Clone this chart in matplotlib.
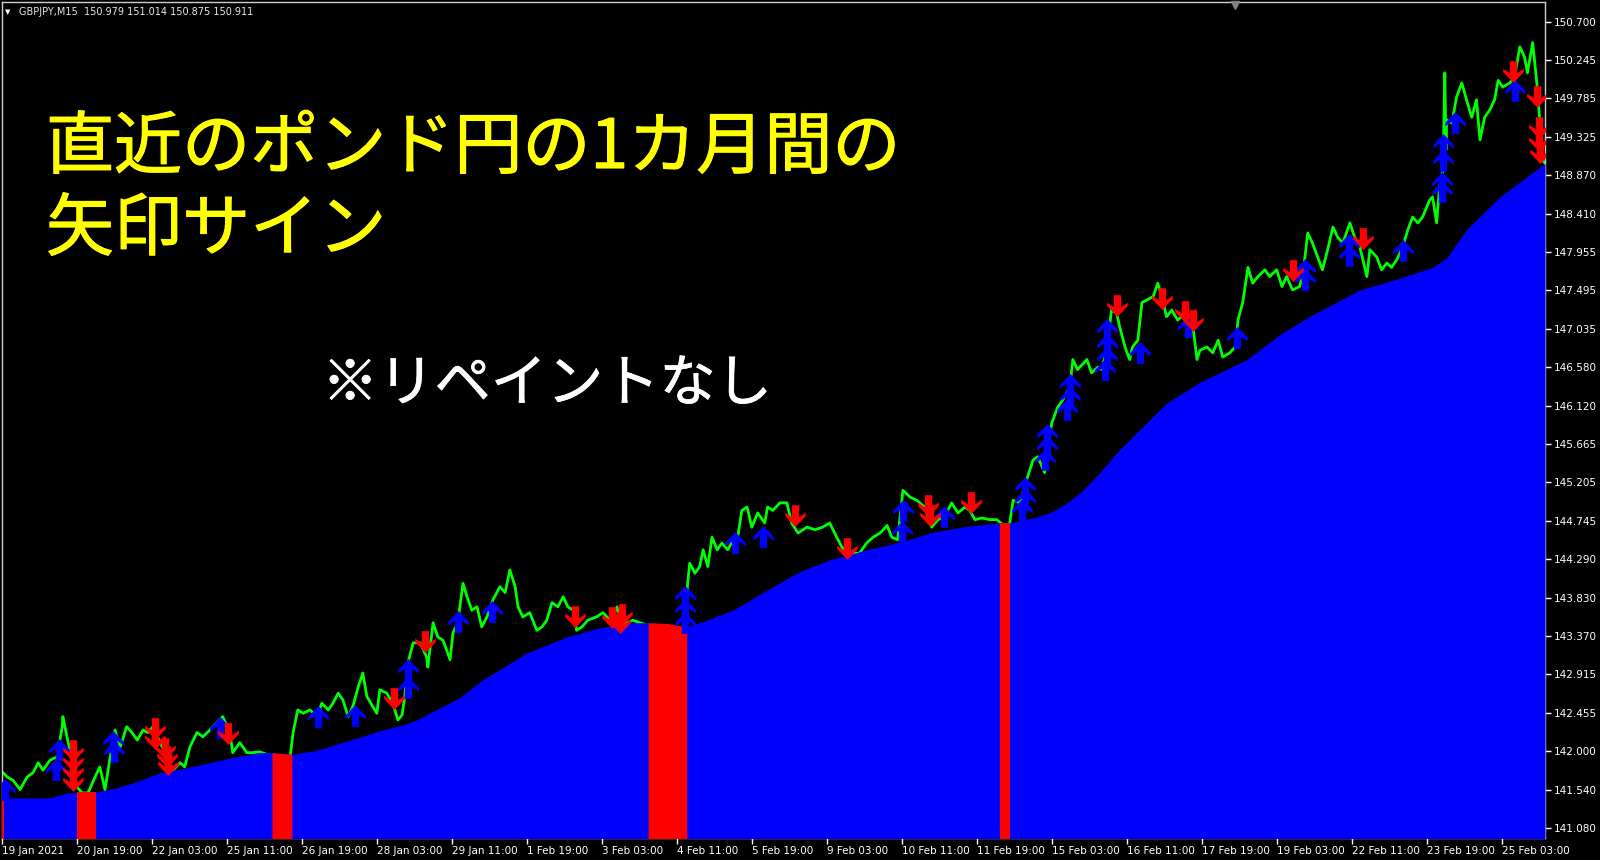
import numpy as np
import matplotlib
matplotlib.use("Agg")
import matplotlib.pyplot as plt
import matplotlib.patheffects as pe
from matplotlib.path import Path

plt.rcParams['font.family'] = ['DejaVu Sans', 'Noto Sans CJK JP']

# GBPJPY M15 close (bar index from 19 Jan 2021, price)
price_bar = [1, 8, 18, 30, 42, 52, 61, 69, 81, 93, 102, 103, 110, 119, 127, 136, 146, 158, 166, 175,
             183, 192, 201, 212, 221, 230, 240, 248, 257, 269, 281, 291, 303, 311, 320, 332, 342, 354, 366, 376,
             388, 393, 405, 417, 427, 439, 451, 474, 491, 496, 504, 513, 525, 537, 545, 556, 564, 573, 581, 590,
             598, 607, 615, 622, 632, 639, 644, 656, 666, 675, 682, 687, 692, 701, 713, 724, 726, 735, 743, 752,
             764, 769, 777, 786, 793, 801, 810, 818, 827, 837, 849, 858, 866, 875, 880, 888, 900, 912, 921, 929,
             938, 948, 957, 965, 974, 980, 989, 999, 1014, 1025, 1037, 1049, 1054, 1066, 1076, 1088, 1102, 1136, 1168, 1169,
             1173, 1182, 1190, 1196, 1204, 1211, 1220, 1228, 1238, 1247, 1255, 1262, 1271, 1279, 1289, 1301, 1306, 1315, 1327, 1339,
             1347, 1358, 1373, 1387, 1400, 1412, 1424, 1433, 1446, 1463, 1475, 1486, 1498, 1510, 1518, 1528, 1537, 1549, 1561, 1574,
             1586, 1597, 1608, 1620, 1631, 1643, 1651, 1660, 1672, 1685, 1697, 1711, 1719, 1725, 1737, 1748, 1759, 1767, 1779, 1784,
             1791, 1801, 1810, 1822, 1827, 1835, 1851, 1859, 1870, 1876, 1885, 1893, 1902, 1907, 1916, 1924, 1929, 1938, 1945, 1953,
             1964, 1972, 1979, 1987, 1996, 2006, 2018, 2023, 2032, 2039, 2044, 2056, 2066, 2075, 2083, 2095, 2104, 2109, 2117, 2126,
             2134, 2143, 2155, 2163, 2175, 2184, 2192, 2202, 2214, 2220, 2228, 2236, 2245, 2253, 2262, 2271, 2279, 2288, 2300, 2308,
             2317, 2329, 2334, 2346, 2354, 2363, 2371, 2380, 2390, 2399, 2407, 2416, 2424, 2436, 2441, 2448, 2453, 2459, 2462, 2464,
             2465, 2474, 2482, 2491, 2499, 2508, 2516, 2522, 2530, 2539, 2547, 2553, 2561, 2573, 2581, 2590, 2598, 2603, 2612, 2619,
             2624, 2629, 2633]
price_val = [141.74, 141.69, 141.65, 141.54, 141.69, 141.74, 141.86, 141.77, 141.89, 141.93, 142.29, 142.41, 142.17, 141.89, 141.57, 141.50, 141.50, 141.69, 141.81, 141.54,
             141.89, 142.25, 142.05, 142.29, 142.22, 142.13, 142.25, 142.22, 142.29, 142.10, 141.93, 141.77, 141.86, 141.81, 142.05, 142.22, 142.17, 142.25, 142.34, 142.41,
             142.22, 141.98, 142.10, 141.98, 141.98, 141.99, 141.96, 141.93, 141.93, 142.22, 142.49, 142.45, 142.49, 142.41, 142.57, 142.49, 142.57, 142.69, 142.61, 142.41,
             142.53, 142.76, 142.93, 142.65, 142.53, 142.45, 142.73, 142.69, 142.57, 142.37, 142.43, 142.67, 143.05, 143.29, 143.29, 143.12, 143.00, 143.53, 143.36, 143.32,
             143.09, 143.41, 143.53, 144.00, 143.84, 143.68, 143.72, 143.48, 143.60, 143.80, 143.96, 143.89, 144.16, 143.96, 143.72, 143.60, 143.65, 143.44, 143.48, 143.56,
             143.77, 143.72, 143.84, 143.72, 143.68, 143.44, 143.48, 143.56, 143.60, 143.65, 143.56, 143.72, 143.53, 143.53, 143.56, 143.53, 143.50, 143.45, 143.44, 143.96,
             144.24, 144.12, 144.20, 144.40, 144.20, 144.55, 144.40, 144.48, 144.40, 144.52, 144.55, 144.87, 144.91, 144.67, 144.84, 144.72, 144.91, 144.87, 144.96, 144.96,
             144.72, 144.60, 144.67, 144.64, 144.67, 144.72, 144.55, 144.43, 144.36, 144.36, 144.48, 144.55, 144.60, 144.69, 144.55, 144.52, 145.11, 145.03, 144.99, 144.91,
             144.67, 144.76, 144.79, 144.96, 144.84, 144.91, 144.87, 144.76, 144.78, 144.76, 144.76, 144.68, 144.70, 144.99, 144.96, 145.23, 145.47, 145.51, 145.32, 145.63,
             145.91, 146.10, 146.19, 146.34, 146.67, 146.55, 146.67, 146.51, 146.58, 146.55, 146.78, 147.26, 147.22, 147.06, 146.82, 146.67, 146.82, 146.90, 147.35, 147.38,
             147.42, 147.58, 147.42, 147.18, 147.26, 147.14, 147.22, 146.94, 147.06, 146.67, 146.78, 146.82, 146.75, 146.90, 146.70, 146.75, 146.82, 147.14, 147.35, 147.77,
             147.58, 147.66, 147.74, 147.66, 147.74, 147.54, 147.66, 147.50, 147.54, 147.70, 148.18, 148.06, 147.89, 147.74, 147.98, 148.25, 148.13, 148.06, 148.30, 148.13,
             148.01, 147.66, 147.98, 147.89, 147.74, 147.82, 147.77, 147.86, 148.01, 148.22, 148.37, 148.30, 148.37, 148.57, 148.61, 148.30, 148.73, 148.93, 150.09, 149.17,
             149.53, 149.49, 149.80, 149.97, 149.77, 149.56, 149.77, 149.29, 149.56, 149.65, 149.77, 150.00, 149.92, 149.97, 150.04, 150.40, 150.28, 150.09, 150.45, 149.97,
             149.53, 149.05, 149.01]

# moving average band (top of the filled area)
ma_bar = [0, 81, 110, 127, 160, 183, 223, 269, 315, 359, 405, 439, 460, 494, 537, 593, 649, 678, 707, 781,
          820, 895, 963, 1020, 1076, 1102, 1136, 1168, 1190, 1247, 1305, 1361, 1412, 1475, 1532, 1588, 1646, 1702, 1719, 1759,
          1788, 1817, 1844, 1873, 1902, 1929, 1987, 2044, 2124, 2185, 2243, 2317, 2385, 2441, 2465, 2499, 2556, 2633]
ma_val = [141.44, 141.44, 141.50, 141.51, 141.51, 141.54, 141.62, 141.74, 141.80, 141.87, 141.94, 141.98, 141.98, 141.96, 142.01, 142.13, 142.25, 142.30, 142.37, 142.64,
          142.85, 143.17, 143.36, 143.47, 143.53, 143.53, 143.52, 143.48, 143.53, 143.68, 143.92, 144.14, 144.28, 144.40, 144.49, 144.61, 144.68, 144.72, 144.72, 144.78,
          144.84, 144.96, 145.11, 145.32, 145.56, 145.75, 146.15, 146.40, 146.67, 146.99, 147.23, 147.50, 147.64, 147.77, 147.88, 148.22, 148.61, 149.01]

# bar ranges where the band turns red
red_zones = [(0, 3), (127, 160), (460, 494), (1102, 1168), (1702, 1719)]

# buy arrows (blue, up) and sell arrows (red, down)
up_bar = [4, 91, 96, 189, 191, 371, 538, 602, 692, 692, 777, 835, 1165, 1165, 1165, 1250, 1298, 1535, 1537, 1607,
          1745, 1745, 1740, 1783, 1783, 1779, 1822, 1822, 1817, 1885, 1885, 1885, 1882, 1941, 2023, 2107, 2224, 2223, 2298, 2298,
          2390, 2457, 2457, 2459, 2459, 2480, 2581]
up_val = [141.54, 141.77, 142.01, 142.11, 141.99, 142.27, 142.41, 142.42, 142.97, 142.75, 143.54, 143.66, 143.84, 143.68, 143.53, 144.48, 144.55, 144.61, 144.86, 144.79,
          145.14, 144.99, 144.88, 145.77, 145.63, 145.47, 146.37, 146.21, 146.07, 147.02, 146.84, 146.69, 146.55, 146.75, 147.06, 146.93, 147.74, 147.62, 148.04, 147.91,
          147.97, 148.78, 148.67, 149.04, 149.23, 149.49, 149.87]
dn_bar = [120, 120, 120, 120, 260, 260, 277, 281, 283, 385, 668, 721, 977, 1040, 1057, 1054, 1352, 1441, 1580, 1583,
          1653, 1902, 1979, 2018, 2032, 2202, 2322, 2578, 2620, 2622, 2622, 2624]
dn_val = [142.01, 141.89, 141.77, 141.65, 142.27, 142.15, 142.04, 141.94, 141.85, 142.22, 142.63, 143.31, 143.61, 143.60, 143.63, 143.54, 144.82, 144.42, 144.93, 144.82,
          144.97, 147.32, 147.40, 147.25, 147.14, 147.74, 148.12, 150.11, 149.81, 149.44, 149.29, 149.15]

y_ticks = [150.700, 150.245, 149.785, 149.325, 148.870, 148.410, 147.955, 147.495, 147.035, 146.580, 146.120,
           145.665, 145.205, 144.745, 144.290, 143.830, 143.370, 142.915, 142.455, 142.000, 141.540, 141.080]
x_labels = ['19 Jan 2021', '20 Jan 19:00', '22 Jan 03:00', '25 Jan 11:00', '26 Jan 19:00', '28 Jan 03:00',
            '29 Jan 11:00', '1 Feb 19:00', '3 Feb 03:00', '4 Feb 11:00', '5 Feb 19:00', '9 Feb 03:00',
            '10 Feb 11:00', '11 Feb 19:00', '15 Feb 03:00', '16 Feb 11:00', '17 Feb 19:00', '19 Feb 03:00',
            '22 Feb 11:00', '23 Feb 19:00', '25 Feb 03:00']
bars_per_label = 128

y_lo, y_hi = 140.962, 150.935

fig = plt.figure(figsize=(16, 8.6), dpi=100, facecolor='black')
ax = fig.add_axes([2 / 1600, 22 / 860, 1543 / 1600, 836 / 860])
ax.set_facecolor('black')

ax.plot(price_bar, price_val, color='#00FF00', lw=2, zorder=2)
ax.fill_between(ma_bar, ma_val, y_lo - 1, color='#0000FF', lw=0, zorder=3)
for b0, b1 in red_zones:
    xs = np.linspace(b0, b1, 20)
    ax.fill_between(xs, np.interp(xs, ma_bar, ma_val), y_lo - 1, color='#FF0000', lw=0, zorder=4)

# thick MT4-style arrow glyph
up_arrow = Path([(0, 1.0), (0.9, 0.05), (0.9, -0.25), (0.32, 0.15), (0.32, -0.9),
                 (-0.32, -0.9), (-0.32, 0.15), (-0.9, -0.25), (-0.9, 0.05), (0, 1.0)],
                [Path.MOVETO] + [Path.LINETO] * 8 + [Path.CLOSEPOLY])
dn_arrow = Path(up_arrow.vertices * np.array([1, -1]), up_arrow.codes)
ax.plot(up_bar, up_val, ls='none', marker=up_arrow, ms=16.5, color='#0000FF', mew=0, zorder=5)
ax.plot(dn_bar, dn_val, ls='none', marker=dn_arrow, ms=16.5, color='#FF0000', mew=0, zorder=5)

ax.set_xlim(-0.85, 2633)
ax.set_ylim(y_lo, y_hi)

ax.yaxis.tick_right()
ax.set_yticks(y_ticks)
ax.set_yticklabels([f'{v:.3f}' for v in y_ticks])
ax.set_xticks([i * bars_per_label for i in range(len(x_labels))])
ax.set_xticklabels(x_labels, ha='left')
ax.tick_params(axis='both', colors='white', labelcolor='white', labelsize=7.5, length=4, width=1, direction='out')
ax.tick_params(axis='y', pad=2)
ax.tick_params(axis='x', pad=2)
for s in ax.spines.values():
    s.set_color('#D0D0D0')
    s.set_linewidth(1)
ax.plot([0.799], [0.997], marker='v', ms=6, color='#808080', transform=ax.transAxes, clip_on=False, zorder=6)

fig.text(5 / 1600, 1 - 12 / 860, '▼', color='white', fontsize=5, va='center')
fig.text(19 / 1600, 1 - 12 / 860, 'GBPJPY,M15  150.979 151.014 150.875 150.911',
         color='#E8E8E8', fontsize=7, va='center')

jp = ['Noto Sans CJK JP', 'DejaVu Sans']
thick = [pe.withStroke(linewidth=0.8, foreground='#FFFF00')]
fig.text(46 / 1600, 1 - 149 / 860, '直近のポンド円の1カ月間の', color='#FFFF00', fontsize=49,
         family=jp, va='center', path_effects=thick)
fig.text(46 / 1600, 1 - 231 / 860, '矢印サイン', color='#FFFF00', fontsize=49,
         family=jp, va='center', path_effects=thick)
fig.text(322 / 1600, 1 - 385 / 860, '※リペイントなし', color='white', fontsize=40.5,
         family=jp, va='center', path_effects=[pe.withStroke(linewidth=0.5, foreground='white')])

fig.savefig('out.png', dpi=100, facecolor='black')
